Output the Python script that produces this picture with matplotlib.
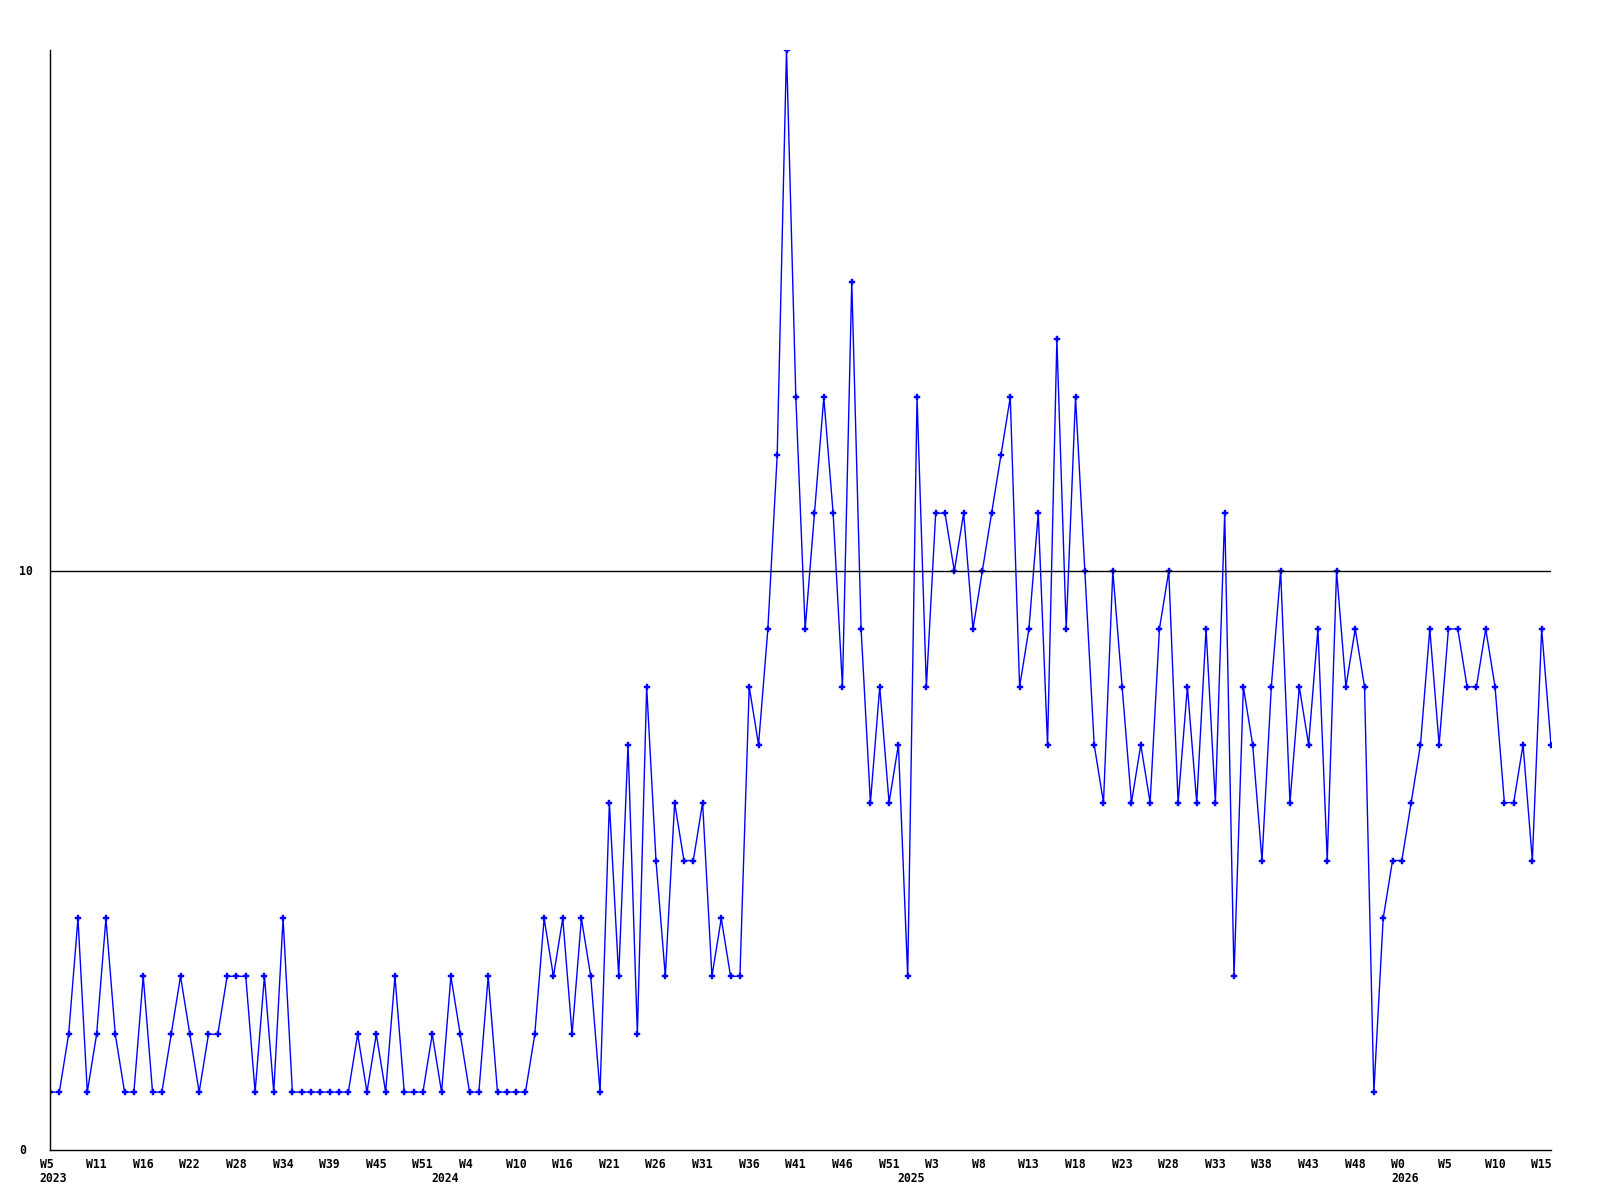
import matplotlib
matplotlib.use('Agg')
import matplotlib.pyplot as plt
import matplotlib.transforms as mtransforms
import numpy as np


# weekly counts (2023 W5 .. 2026 W15)
counts = [
    1, 1, 2, 4, 1, 2, 4, 2, 1, 1,
    3, 1, 1, 2, 3, 2, 1, 2, 2, 3,
    3, 3, 1, 3, 1, 4, 1, 1, 1, 1,
    1, 1, 1, 2, 1, 2, 1, 3, 1, 1,
    1, 2, 1, 3, 2, 1, 1, 3, 1, 1,
    1, 1, 2, 4, 3, 4, 2, 4, 3, 1,
    6, 3, 7, 2, 8, 5, 3, 6, 5, 5,
    6, 3, 4, 3, 3, 8, 7, 9, 12, 19,
    13, 9, 11, 13, 11, 8, 15, 9, 6, 8,
    6, 7, 3, 13, 8, 11, 11, 10, 11, 9,
    10, 11, 12, 13, 8, 9, 11, 7, 14, 9,
    13, 10, 7, 6, 10, 8, 6, 7, 6, 9,
    10, 6, 8, 6, 9, 6, 11, 3, 8, 7,
    5, 8, 10, 6, 8, 7, 9, 5, 10, 8,
    9, 8, 1, 4, 5, 5, 6, 7, 9, 7,
    9, 9, 8, 8, 9, 8, 6, 6, 7, 5,
    9, 7,
]

# one label every 5 points
week_labels = ['W5', 'W11', 'W16', 'W22', 'W28', 'W34', 'W39', 'W45', 'W51',
               'W4', 'W10', 'W16', 'W21', 'W26', 'W31', 'W36', 'W41', 'W46', 'W51',
               'W3', 'W8', 'W13', 'W18', 'W23', 'W28', 'W33', 'W38', 'W43', 'W48',
               'W0', 'W5', 'W10', 'W15']
year_labels = ['2023', '2024', '2025', '2026']
year_starts = [0, 42, 92, 145]
ytick_values = [0, 10]

font = dict(family='DejaVu Sans Mono', weight='bold', size=8.3)

fig = plt.figure(figsize=(16, 12), dpi=100)
ax = fig.add_axes([50 / 1600, 50 / 1200, 1501 / 1600, 1100 / 1200])

x = np.arange(len(counts))
ax.plot(x, counts, color='#0000ff', lw=1, marker='P', ms=5, mew=0.3)
ax.axhline(10, color='black', lw=1)

ax.set_xlim(0, len(counts) - 1)
ax.set_ylim(0, 19)
ax.set_xticks([])
ax.set_yticks([])
for s in ['top', 'right']:
    ax.spines[s].set_visible(False)
for s in ['left', 'bottom']:
    ax.spines[s].set_color('black')
    ax.spines[s].set_linewidth(1)

# x labels
xt = mtransforms.blended_transform_factory(ax.transData, ax.transAxes)
wk_tr = mtransforms.offset_copy(xt, fig=fig, x=-10.5, y=-14, units='dots')
yr_tr = mtransforms.offset_copy(xt, fig=fig, x=-10.5, y=-29, units='dots')
tick_pos = x[::5]
for pos, lab in zip(tick_pos, week_labels):
    ax.text(pos, 0, lab, transform=wk_tr, ha='left', va='center', clip_on=False, **font)
for pos, lab in zip(year_starts, year_labels):
    ax.text(pos, 0, lab, transform=yr_tr, ha='left', va='center', clip_on=False, **font)

# y labels
yt = mtransforms.blended_transform_factory(ax.transAxes, ax.transData)
y_tr = mtransforms.offset_copy(yt, fig=fig, x=-30.5, y=0, units='dots')
for v in ytick_values:
    ax.text(0, v, str(v), transform=y_tr, ha='left', va='center', clip_on=False, **font)

fig.savefig('out.png', dpi=100, facecolor='white')
